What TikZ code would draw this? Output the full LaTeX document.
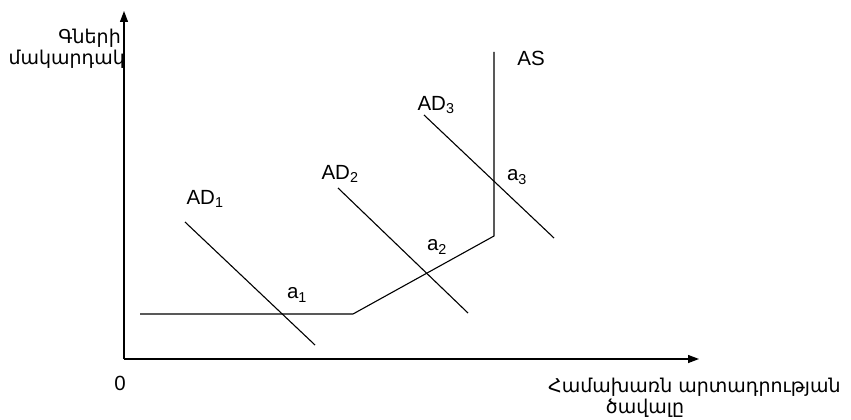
\documentclass[tikz,border=0pt]{standalone}
\usepackage{fontspec}
\setmainfont{Liberation Sans}
\newfontfamily\armfont{DejaVu Sans}
\usetikzlibrary{arrows.meta}
\begin{document}
\begin{tikzpicture}[x=1pt,y=-1pt,
  curve/.style={line width=1.1pt,black},
  axis/.style={line width=1.3pt,black,-{Triangle[length=11pt,width=8pt]}},
  lbl/.style={font=\fontsize{20.5}{24}\selectfont,inner sep=0pt},
  arm/.style={font=\armfont\fontsize{19}{23}\selectfont,inner sep=0pt}]
\useasboundingbox (0,0) rectangle (851,420);
\coordinate (O) at (124,359);
\coordinate (ytip) at (124,11);
\coordinate (xtip) at (699,359);
\draw[axis] (O) -- (ytip);
\draw[axis] (O) -- (xtip);
\coordinate (s1) at (140,314);
\coordinate (s2) at (353,314);
\coordinate (s3) at (494,236);
\coordinate (s4) at (494,52);
\draw[curve] (s1) -- (s2) -- (s3) -- (s4);
\coordinate (d1a) at (185,222); \coordinate (d1b) at (315,345);
\coordinate (d2a) at (338,188); \coordinate (d2b) at (468,313);
\coordinate (d3a) at (424,115); \coordinate (d3b) at (554,238);
\draw[curve] (d1a) -- (d1b);
\draw[curve] (d2a) -- (d2b);
\draw[curve] (d3a) -- (d3b);
\node[lbl] (zero) at (120,383) {0};
\node[lbl] (AD1) at (205,199) {AD\textsubscript{1}};
\node[lbl] (AD2) at (340,174) {AD\textsubscript{2}};
\node[lbl] (AD3) at (436,105) {AD\textsubscript{3}};
\node[lbl] (AS) at (531,58) {AS};
\node[lbl] (a1) at (297,295) {a\textsubscript{1}};
\node[lbl] (a2) at (437,247) {a\textsubscript{2}};
\node[lbl] (a3) at (517,177) {a\textsubscript{3}};
\node[arm,anchor=east] (yl1) at (121,38) {Գների};
\node[arm,anchor=east] (yl2) at (125,59) {մակարդակ};
\node[arm,anchor=west] (xl1) at (548,387) {Համախառն արտադրության};
\node[arm] (xl2) at (645,408) {ծավալը};
\end{tikzpicture}
\end{document}
